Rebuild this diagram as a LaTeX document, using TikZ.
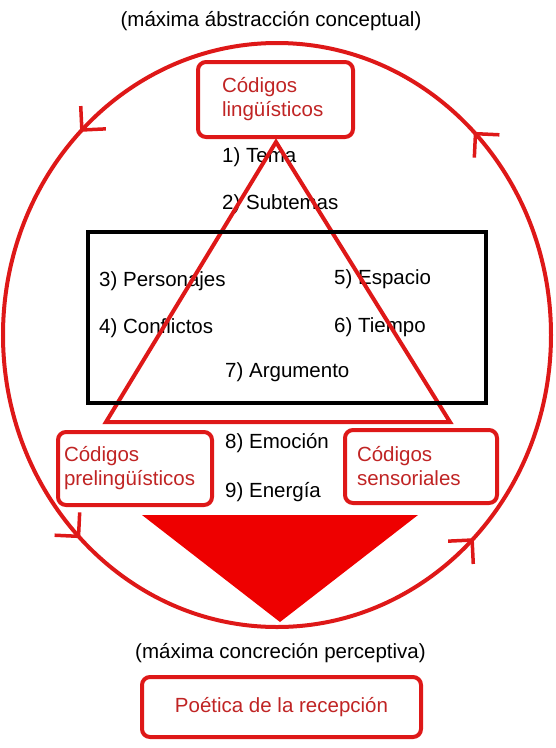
\documentclass[tikz,border=0pt]{standalone}
\usepackage{fontspec}
\setmainfont{Liberation Sans}
\usetikzlibrary{arrows.meta,decorations.markings}
\definecolor{lineRed}{RGB}{222,24,24}
\definecolor{textRed}{RGB}{192,36,36}
\definecolor{fillRed}{RGB}{238,0,0}
\begin{document}
\begin{tikzpicture}[x=1pt,y=1pt,
  every node/.style={font=\fontsize{20.5}{24}\selectfont},
  itemtext/.style={anchor=west,inner sep=0pt,text height=0.72em,text depth=0pt},
  codebox/.style={draw=lineRed,line width=4pt,rounded corners=8pt,text=textRed,align=left,inner ysep=0pt},
  cycleline/.style={draw=lineRed,line width=4pt,postaction={decorate},
    decoration={markings,mark=between positions 0.125 and 1 step 0.25 with
      {\arrow{Straight Barb[angle=90:24pt,line width=3.5pt,color=lineRed]}}}}]
\useasboundingbox (0,0) rectangle (555,-748);
% texts
\node[itemtext,anchor=center] (abstr) at (271,-22.5) {(máxima ábstracción conceptual)};
\node[itemtext] (tema) at (222,-158.5) {1) Tema};
\node[itemtext] (subtemas) at (222,-205.5) {2) Subtemas};
\node[itemtext] (personajes) at (99,-282.5) {3) Personajes};
\node[itemtext] (conflictos) at (99,-329.5) {4) Conflictos};
\node[itemtext] (espacio) at (334,-280.5) {5) Espacio};
\node[itemtext] (tiempo) at (334,-328.5) {6) Tiempo};
\node[itemtext] (argumento) at (225,-373.5) {7) Argumento};
\node[itemtext] (emocion) at (225,-444.5) {8) Emoción};
\node[itemtext] (energia) at (225,-493.5) {9) Energía};
\node[itemtext,anchor=center] (concr) at (280.5,-655) {(máxima concreción perceptiva)};
% shapes
\draw[lineRed, line width=4pt] (276,-142) -- (106,-422) -- (450,-422) -- cycle;
\draw[line width=4.5pt] (88,-232) rectangle (486,-403);
\fill[fillRed] (142,-515) -- (418,-515) -- (280,-622) -- cycle;
\draw[cycleline] (277,-335) ellipse [x radius=274, y radius=292];
% boxes
\node[codebox,text width=107pt,inner xsep=24pt,minimum height=75pt] (ling) at (275.5,-99.5) {Códigos\\lingüísticos};
\node[codebox,text width=142pt,inner xsep=6pt,minimum height=73pt] (prel) at (135,-468.5) {Códigos\\prelingüísticos};
\node[codebox,text width=128pt,inner xsep=12pt,minimum height=73pt] (sens) at (421,-466.5) {Códigos\\sensoriales};
\node[codebox,align=center,minimum width=279pt,minimum height=60pt] (recep) at (281.5,-707) {Poética de la recepción};
\end{tikzpicture}
\end{document}
